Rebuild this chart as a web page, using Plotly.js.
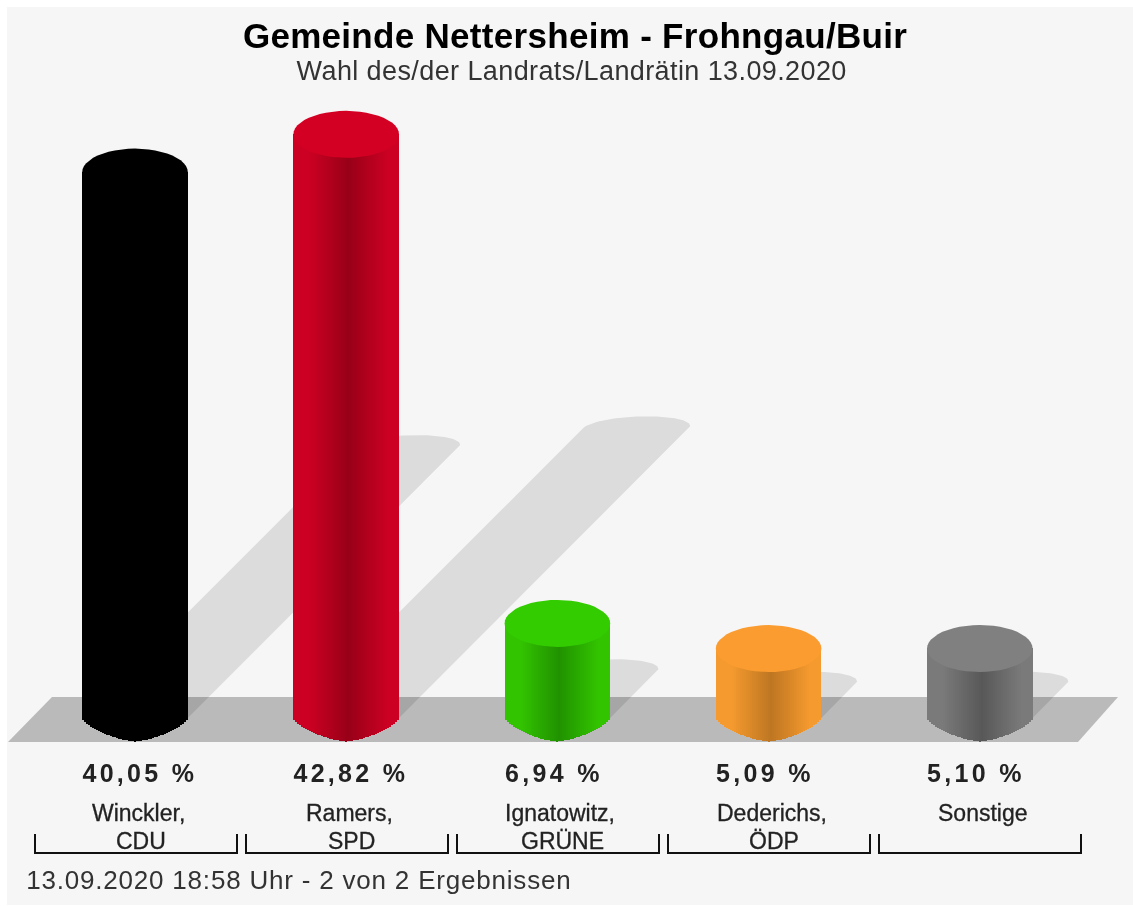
<!DOCTYPE html>
<html>
<head>
<meta charset="utf-8">
<script src="https://cdn.plot.ly/plotly-3.0.1.min.js"></script>
<style>
html,body{margin:0;padding:0;background:#fff}
#chart{width:1133px;height:906px}
#chart .main-svg{filter:blur(0.5px)}
#chart .gtitle{letter-spacing:0.3px}
</style>
</head>
<body>
<div id="chart"></div>
<script>
// ---- data ----
const candidates = ["Winckler,", "Ramers,", "Ignatowitz,", "Dederichs,", "Sonstige"];
const parties = ["CDU", "SPD", "GRÜNE", "ÖDP", ""];
const shares = [40.05, 42.82, 6.94, 5.09, 5.10];
const titleText = "Gemeinde Nettersheim - Frohngau/Buir";
const subtitleText = "Wahl des/der Landrats/Landrätin 13.09.2020";
const footerText = "13.09.2020 18:58 Uhr - 2 von 2 Ergebnissen";

// ---- styles ----
const sideRGB = [[0,0,0],[204,0,34],[51,196,0],[245,154,46],[122,122,122]];
const darkRGB = [[0,0,0],[152,0,24],[32,146,0],[190,118,34],[88,88,88]];
const capColors = ["#000000","#d40024","#33cc00","#fb9c30","#808080"];
const bg = "#f6f6f6", floorColor = "#bababa", shadowColor = "rgba(0,0,0,0.105)", inkColor = "#111111";

// ---- scales: one category = 211.2 px, one percent = 13.63 px, base at (135, 718) ----
const W = 1133, H = 906, X0 = 135, Y0 = 718, PX_CAT = 211.2, PX_PCT = 13.63;
const xOfPx = p => (p - X0) / PX_CAT;
const yOfPx = p => (Y0 - p) / PX_PCT;
const halfW = 52.8 / PX_CAT, ry = 23.5 / PX_PCT;
const shadowRun = 6.77;  // px of diagonal shadow per percent
const xRange = [xOfPx(0), xOfPx(W)], yRange = [yOfPx(H), yOfPx(0)];

const traces = [];
function poly(xs, ys, color, onTop) {
  traces.push({type:"scatter", mode:"lines", x:xs, y:ys, fill:"toself", fillcolor:color,
    line:{width:0}, hoverinfo:"skip", showlegend:false,
    xaxis: onTop ? "x2" : "x", yaxis: onTop ? "y2" : "y"});
}
function arc(cx, cy, rx, rY, a0, a1, shear) {
  const xs = [], ys = [];
  for (let k = 0; k <= 48; k++) {
    const a = a0 + (a1 - a0) * k / 48;
    xs.push(cx + rx * Math.cos(a) + (shear || 0) * Math.sin(a)); ys.push(cy + rY * Math.sin(a));
  }
  return [xs, ys];
}

// floor
poly([8,52,1118,1078,8].map(xOfPx), [742,697,697,742,742].map(yOfPx), floorColor, false);

// diagonal shadows
shares.forEach((v, i) => {
  const dx = v * shadowRun / PX_CAT, dy = v * shadowRun / PX_PCT;
  const [ax, ay] = arc(i + dx, dy, halfW, ry * 0.5, 0, Math.PI, 11 / PX_CAT);
  poly([i + halfW, ...ax, i - halfW, i + halfW], [0, ...ay, 0, 0], shadowColor, false);
});

// cylinder bodies as shaded vertical strips, bottom rim follows a pointed curve
const STRIPS = 53, RIM = 1.45;
shares.forEach((v, i) => {
  const xs = [], bases = [], hs = [], cols = [];
  for (let s = 0; s < STRIPS; s++) {
    const u = -1 + (2 * s + 1) / STRIPS;
    const d = Math.abs(u - 0.04);
    const t = Math.max(0, 1 - d / 0.75);
    const c = sideRGB[i].map((b, k) => Math.round(b + (darkRGB[i][k] - b) * t));
    const base = -ry * Math.pow(1 - Math.pow(Math.abs(u), RIM), 1 / RIM);
    xs.push(i + u * halfW); bases.push(base); hs.push(v - base);
    cols.push(`rgb(${c.join(",")})`);
  }
  traces.push({type:"bar", x:xs, y:hs, base:bases, width:2 * halfW / STRIPS,
    marker:{color:cols, line:{width:0}}, hoverinfo:"skip", showlegend:false,
    xaxis:"x2", yaxis:"y2"});
});

// cylinder caps
shares.forEach((v, i) => {
  const [ex, ey] = arc(i, v, halfW, ry, 0, 2 * Math.PI);
  poly(ex, ey, capColors[i], true);
});

// brackets under each category
const bx = [], by = [];
candidates.forEach((c, i) => {
  const cx = xOfPx(136 + i * 211), hw = 101 / PX_CAT;
  bx.push(cx - hw, cx - hw, cx + hw, cx + hw, null);
  by.push(yOfPx(834), yOfPx(853), yOfPx(853), yOfPx(834), null);
});
traces.push({type:"scatter", mode:"lines", x:bx, y:by, line:{color:inkColor, width:2},
  hoverinfo:"skip", showlegend:false, xaxis:"x2", yaxis:"y2"});

// texts; letter spacing is added per annotation through a small stylesheet
const annotations = [];
let css = "";
function addNote(a, spacing, stroke) {
  const idx = annotations.length;
  annotations.push(Object.assign({showarrow:false, yanchor:"middle", xanchor:"center"}, a));
  if (spacing || stroke) {
    css += `#chart g.annotation[data-index="${idx}"] text{` +
      (spacing ? `letter-spacing:${spacing}px;` : "") +
      (stroke ? `stroke:#222;stroke-width:${stroke}px;` : "") + "}\n";
  }
}
const nameFont = {family:"Liberation Sans", size:23, color:"#222"};
const sideFont = {family:"Liberation Sans", color:"#333"};
shares.forEach((v, i) => {
  const label = v.toFixed(2).replace(".", ",") + " %";
  const wPx = 16.4 * label.length;   // rendered width with spacing: keeps the label flush with the bar's left edge
  addNote({xref:"x", yref:"y", x:i - halfW + wPx / 2 / PX_CAT, y:yOfPx(773), text:label,
    font:{family:"Liberation Sans", size:25, color:"#222", weight:700}}, 3.3);
  addNote({xref:"x", yref:"y", x:i + 3 / PX_CAT, y:yOfPx(813), text:candidates[i], font:nameFont}, 0, 0.3);
  if (parties[i]) addNote({xref:"x", yref:"y", x:i + 5.5 / PX_CAT, y:yOfPx(841), text:parties[i], font:nameFont}, 0, 0.3);
});
addNote({xref:"paper", yref:"paper", x:571/W, y:1-71/H, text:subtitleText,
  font:Object.assign({size:27}, sideFont)}, 0.4);
addNote({xref:"paper", yref:"paper", x:299/W, y:1-880/H, text:footerText,
  font:Object.assign({size:26}, sideFont)}, 0.8);
const styleEl = document.createElement("style");
styleEl.textContent = css;
document.head.appendChild(styleEl);

const hiddenAxis = r => ({range:r, visible:false, fixedrange:true, showgrid:false, zeroline:false});
const layout = {
  width:W, height:H, margin:{l:0,r:0,t:0,b:0,pad:0}, autosize:false,
  paper_bgcolor:"#ffffff", plot_bgcolor:"rgba(0,0,0,0)", showlegend:false, barmode:"overlay", bargap:0,
  title:{text:titleText, x:575/W, xanchor:"center", xref:"paper", y:1-36/H, yref:"paper", yanchor:"middle",
    font:{family:"Liberation Sans", size:35, color:"#000", weight:700}},
  xaxis:hiddenAxis(xRange), yaxis:hiddenAxis(yRange),
  xaxis2:Object.assign(hiddenAxis(xRange), {overlaying:"x"}),
  yaxis2:Object.assign(hiddenAxis(yRange), {overlaying:"y"}),
  shapes:[{type:"rect", xref:"paper", yref:"paper", x0:7/W, x1:1, y0:1/H, y1:1-7/H, fillcolor:bg, line:{width:0}, layer:"below"}],
  annotations:annotations
};
Plotly.newPlot("chart", traces, layout, {displayModeBar:false, staticPlot:true});
</script>
</body>
</html>
